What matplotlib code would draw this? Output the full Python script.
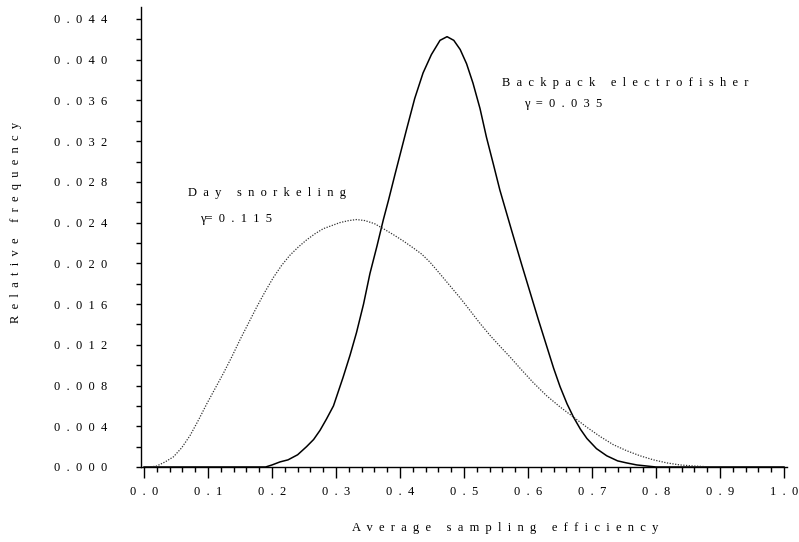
import matplotlib.pyplot as plt
from matplotlib.ticker import MultipleLocator, FuncFormatter

plt.rcParams['font.family'] = ['Liberation Serif', 'DejaVu Serif']

# Backpack electrofisher (solid)
bp_x = [0.0, 0.10, 0.19, 0.20, 0.2125, 0.225, 0.24, 0.254, 0.265, 0.275, 0.285,
        0.296, 0.311, 0.322, 0.332, 0.343, 0.353, 0.364, 0.374, 0.382, 0.392,
        0.410, 0.423, 0.436, 0.449, 0.4625, 0.4735, 0.484, 0.494, 0.504, 0.514,
        0.525, 0.535, 0.546, 0.556, 0.5745, 0.590, 0.603, 0.616, 0.629, 0.640,
        0.65, 0.661, 0.671, 0.682, 0.692, 0.707, 0.723, 0.74, 0.754, 0.77,
        0.785, 0.80, 0.90, 1.0]
bp_y = [0.0, 0.0, 0.0, 0.0002, 0.0005, 0.0007, 0.0012, 0.0020, 0.0027, 0.0036, 0.0047,
        0.0060, 0.0088, 0.0110, 0.0132, 0.0160, 0.0190, 0.0217, 0.0243, 0.0262, 0.0287,
        0.0331, 0.0362, 0.0387, 0.0405, 0.0419, 0.04226, 0.0419, 0.0410, 0.0396, 0.0377,
        0.0352, 0.0324, 0.0297, 0.0272, 0.0232, 0.0199, 0.0172, 0.0145, 0.0119, 0.0097,
        0.0079, 0.0062, 0.0049, 0.0037, 0.0028, 0.0018, 0.0011, 0.0006, 0.0004, 0.0002,
        0.0001, 0.0, 0.0, 0.0]

# Day snorkeling (dotted)
ds_x = [0.01, 0.02, 0.033, 0.046, 0.059, 0.072, 0.085, 0.098, 0.111, 0.124, 0.137,
        0.15, 0.163, 0.176, 0.189, 0.202, 0.215, 0.228, 0.241, 0.254, 0.267,
        0.280, 0.293, 0.306, 0.32, 0.332, 0.345, 0.36, 0.374, 0.39, 0.405,
        0.421, 0.434, 0.447, 0.462, 0.478, 0.494, 0.509, 0.525, 0.541, 0.557,
        0.572, 0.5875, 0.608, 0.629, 0.65, 0.671, 0.692, 0.7125, 0.733, 0.754,
        0.775, 0.796, 0.817, 0.8375, 0.858, 0.879]
ds_y = [0.0, 0.0001, 0.0005, 0.0010, 0.0019, 0.0031, 0.0046, 0.0062, 0.0077, 0.0092, 0.0108,
        0.0125, 0.0141, 0.0157, 0.0172, 0.0186, 0.0198, 0.0208, 0.0216, 0.0223, 0.0229,
        0.0234, 0.0237, 0.0240, 0.0242, 0.0243, 0.0242, 0.0239, 0.0234, 0.0228, 0.0222,
        0.0215, 0.0209, 0.0201, 0.0190, 0.0178, 0.0166, 0.0154, 0.0141, 0.0129, 0.0118,
        0.0108, 0.0097, 0.0083, 0.0070, 0.0059, 0.0049, 0.0039, 0.0030, 0.0022, 0.0016,
        0.0011, 0.0007, 0.0004, 0.0002, 0.0001, 0.00003]

xlabel = "Average sampling efficiency"
ylabel = "Relative frequency"


def sp(s, gap="  "):
    # mimic the wide letter spacing of the original
    return gap.join(s)


fig = plt.figure(figsize=(7.99, 5.42), dpi=100)
ax = fig.add_axes([0.1765, 0.1384, 0.8085, 0.8486])

ax.plot(bp_x, bp_y, color='black', lw=1.1)
ax.plot(ds_x, ds_y, color='#333333', lw=0.9, linestyle=(0, (1, 1.2)))

ax.set_xlim(-0.0047, 1.0047)
ax.set_ylim(0, 0.04517)

ax.spines['top'].set_visible(False)
ax.spines['right'].set_visible(False)
ax.spines['left'].set_linewidth(1.0)
ax.spines['bottom'].set_linewidth(1.0)

ax.xaxis.set_major_locator(MultipleLocator(0.1))
ax.xaxis.set_minor_locator(MultipleLocator(0.02))
ax.yaxis.set_major_locator(MultipleLocator(0.004))
ax.yaxis.set_minor_locator(MultipleLocator(0.002))
ax.xaxis.set_major_formatter(FuncFormatter(lambda v, p: sp("%.1f" % v)))
ax.yaxis.set_major_formatter(FuncFormatter(lambda v, p: sp("%.3f" % v)))

ax.tick_params(axis='x', which='major', direction='out', length=8, width=1.0, pad=6, labelsize=9)
ax.tick_params(axis='x', which='minor', direction='out', length=3.5, width=1.0)
ax.tick_params(axis='y', which='major', direction='out', length=3.5, width=1.0, pad=21, labelsize=9)
ax.tick_params(axis='y', which='minor', direction='out', length=3.5, width=1.0)

fig.text(0.02, 0.59, sp(ylabel), rotation=90, ha='center', va='center', fontsize=9)
fig.text(0.632, 0.026, sp(xlabel), ha='center', va='center', fontsize=9)

ax.text(0.069, 0.0269, sp("Day snorkeling"), ha='left', va='center', fontsize=9)
ax.text(0.0875, 0.02435, "γ=  " + sp("0.115"), ha='left', va='center', fontsize=9)
ax.text(0.559, 0.0377, sp("Backpack electrofisher"), ha='left', va='center', fontsize=9)
ax.text(0.594, 0.03565, "γ  =  " + sp("0.035"), ha='left', va='center', fontsize=9)

fig.savefig("out.png", dpi=100)
